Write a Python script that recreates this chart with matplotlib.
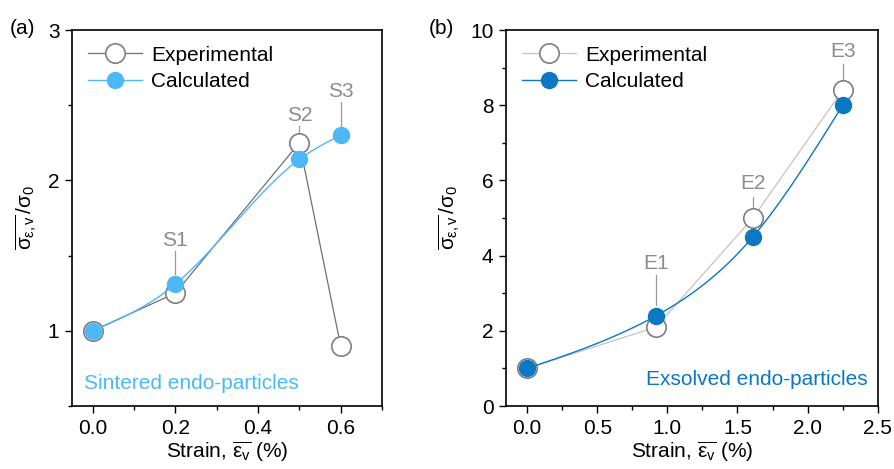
import numpy as np
import matplotlib
matplotlib.use("Agg")
import matplotlib.pyplot as plt
from matplotlib.ticker import MultipleLocator, FormatStrFormatter

plt.rcParams['font.family'] = ['Liberation Sans', 'DejaVu Sans']
plt.rcParams['mathtext.fontset'] = 'custom'
plt.rcParams['mathtext.rm'] = 'Liberation Sans'
plt.rcParams['mathtext.it'] = 'Liberation Sans'
plt.rcParams['mathtext.sf'] = 'Liberation Sans'

# ---- data ----
a_strain = [0.0, 0.2, 0.5, 0.6]
a_exp = [1.0, 1.25, 2.25, 0.90]
a_calc = [1.0, 1.31, 2.14, 2.30]
a_labels = ["S1", "S2", "S3"]

b_strain = [0.0, 0.92, 1.61, 2.25]
b_exp = [1.0, 2.1, 5.0, 8.4]
b_calc = [1.0, 2.4, 4.5, 8.0]
b_labels = ["E1", "E2", "E3"]


def natural_spline(x, y, n=200):
    x = np.asarray(x, float); y = np.asarray(y, float)
    m = len(x); h = np.diff(x)
    A = np.zeros((m, m)); r = np.zeros(m)
    A[0, 0] = A[-1, -1] = 1
    for i in range(1, m - 1):
        A[i, i - 1] = h[i - 1]; A[i, i] = 2 * (h[i - 1] + h[i]); A[i, i + 1] = h[i]
        r[i] = 3 * ((y[i + 1] - y[i]) / h[i] - (y[i] - y[i - 1]) / h[i - 1])
    c = np.linalg.solve(A, r)
    xs = np.linspace(x[0], x[-1], n); ys = np.empty_like(xs)
    for k, xv in enumerate(xs):
        i = min(np.searchsorted(x, xv, side='right') - 1, m - 2)
        dx = xv - x[i]
        b = (y[i + 1] - y[i]) / h[i] - h[i] * (2 * c[i] + c[i + 1]) / 3
        d = (c[i + 1] - c[i]) / (3 * h[i])
        ys[k] = y[i] + b * dx + c[i] * dx ** 2 + d * dx ** 3
    return xs, ys


fig = plt.figure(figsize=(8.95, 4.69), dpi=100)
ax1 = fig.add_axes([0.0804, 0.1343, 0.3464, 0.8017])
ax2 = fig.add_axes([0.5654, 0.1343, 0.4153, 0.8017])

FS = 15
EMS = 14
CMS = 11.5
ylab = r'$\overline{\sigma_{\varepsilon,\mathrm{v}}}\,/\sigma_0$'
xlab = r'Strain, $\overline{\varepsilon_\mathrm{v}}$ (%)'


def panel(ax, xs, exp, calc, labels, ccol, ecol_line, xlim, ylim, xmaj, xmin, ymaj, ymin,
          ann_text, ann_pos, ann_ha, lbl_y, line_y, lbl_x):
    ax.plot(xs, exp, '-', color=ecol_line, lw=0.9, zorder=2)
    ax.plot(xs, exp, 'o', ms=EMS, mfc='white', mec='#7f7f7f', mew=1.2, zorder=3)
    sx, sy = natural_spline(xs, calc)
    ax.plot(sx, sy, '-', color=ccol, lw=1.0, zorder=4)
    ax.plot(xs, calc, 'o', ms=CMS, color=ccol, mec=ccol, zorder=5)
    h1, = ax.plot([], [], '-o', color=ecol_line, lw=0.9, ms=EMS, mfc='white', mec='#7f7f7f', mew=1.2)
    h2, = ax.plot([], [], '-o', color=ccol, lw=1.0, ms=CMS, mfc=ccol, mec=ccol)
    ax.legend([h1, h2], ['Experimental', 'Calculated'], loc='upper left', frameon=False,
              fontsize=FS, handlelength=2.6, handletextpad=0.45, labelspacing=0.35,
              borderaxespad=0.35, bbox_to_anchor=(0.0, 1.0))
    for lx, lb, ly, (l0, l1) in zip(lbl_x, labels, lbl_y, line_y):
        ax.text(lx, ly, lb, ha='center', va='center', fontsize=FS, color='#8c8c8c')
        ax.plot([lx, lx], [l0, l1], color='#999999', lw=0.9, zorder=1)
    ax.text(ann_pos[0], ann_pos[1], ann_text, transform=ax.transAxes, ha=ann_ha, va='center',
            fontsize=FS, color=ccol)
    ax.set_xlim(*xlim); ax.set_ylim(*ylim)
    ax.xaxis.set_major_locator(MultipleLocator(xmaj)); ax.xaxis.set_minor_locator(MultipleLocator(xmin))
    ax.yaxis.set_major_locator(MultipleLocator(ymaj)); ax.yaxis.set_minor_locator(MultipleLocator(ymin))
    ax.xaxis.set_major_formatter(FormatStrFormatter('%.1f'))
    ax.tick_params(which='major', direction='out', length=5, width=1, labelsize=FS, pad=4)
    ax.tick_params(which='minor', direction='out', length=3, width=1)
    for s in ax.spines.values():
        s.set_linewidth(1.2)
    ax.set_xlabel(xlab, fontsize=FS, labelpad=2)
    ax.set_ylabel(ylab, fontsize=FS, labelpad=6)


panel(ax1, a_strain, a_exp, a_calc, a_labels, '#4db8f8', '#707070',
      (-0.05, 0.7), (0.5, 3.0), 0.2, 0.1, 1, 0.5,
      'Sintered endo-particles', (0.04, 0.06), 'left',
      [1.6, 2.43, 2.59], [(1.38, 1.53), (2.21, 2.36), (2.36, 2.52)], a_strain[1:])
ax1.yaxis.set_major_formatter(FormatStrFormatter('%d'))

panel(ax2, b_strain, b_exp, b_calc, b_labels, '#0a78c2', '#c4c4c4',
      (-0.15, 2.5), (0, 10), 0.5, 0.25, 2, 1,
      'Exsolved endo-particles', (0.973, 0.07), 'right',
      [3.8, 5.93, 9.42], [(2.69, 3.48), (5.03, 5.56), (8.22, 9.1)], b_strain[1:])
ax2.yaxis.set_major_formatter(FormatStrFormatter('%d'))

fig.text(0.011, 0.94, '(a)', fontsize=FS, ha='left', va='center')
fig.text(0.479, 0.94, '(b)', fontsize=FS, ha='left', va='center')

fig.savefig('out.png', dpi=100)
